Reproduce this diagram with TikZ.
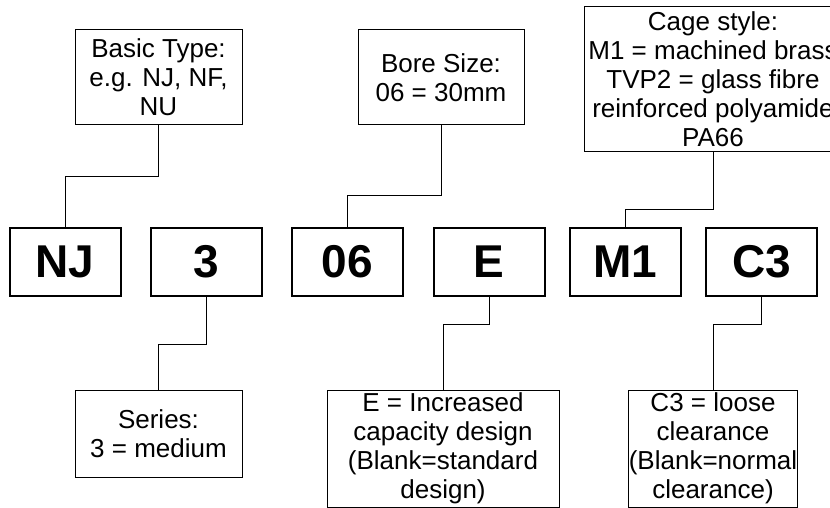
\documentclass[tikz,border=0pt]{standalone}
\usepackage{fontspec}
\setmainfont{Liberation Sans}

\begin{document}
\begin{tikzpicture}[x=1pt,y=-1pt,
  info/.style={draw,line width=1pt,align=center,inner sep=0pt,font=\fontsize{26}{29}\selectfont},
  code/.style={draw,line width=2pt,minimum width=111pt,minimum height=68pt,inner sep=0pt,font=\fontsize{46}{46}\selectfont\bfseries}]
\useasboundingbox (0,0) rectangle (830,508);
%code boxes
\node[code] (nj) at (65,262) {NJ};
\node[code] (series3) at (206.5,262) {3};
\node[code] (bore06) at (347.5,262) {06};
\node[code] (design) at (489,262) {E};
\node[code] (cage) at (625,262) {M1};
\node[code] (clear) at (761.5,262) {C3};
%top boxes
\node[info,minimum width=167pt,minimum height=95pt] (basicinfo) at (158.5,77.5) {Basic Type:\\e.g. NJ, NF,\\NU};
\node[info,minimum width=166pt,minimum height=95pt] (boreinfo) at (441,77.5) {Bore Size:\\06 = 30mm};
\node[info,minimum width=258pt,minimum height=145pt] (cageinfo) at (713,79.5) {Cage style:\\M1 = machined brass\\TVP2 = glass fibre\\reinforced polyamide\\PA66};
%bottom boxes
\node[info,minimum width=167pt,minimum height=87pt] (seriesinfo) at (158.5,433.5) {Series:\\3 = medium};
\node[info,minimum width=232pt,minimum height=117pt] (designinfo) at (443,448.5) {E = Increased\\capacity design\\(Blank=standard\\design)};
\node[info,minimum width=166pt,minimum height=117pt] (clearinfo) at (713,448.5) {C3 = loose\\clearance\\(Blank=normal\\clearance)};
%connectors
\draw[line width=1pt] (basicinfo.south) -- ++(0,51) -| (nj.north);
\draw[line width=1pt] (boreinfo.south) -- ++(0,70) -| (bore06.north);
\draw[line width=1pt] (cageinfo.south) -- ++(0,57) -| (cage.north);
\draw[line width=1pt] (series3.south) -- ++(0,47) -| (seriesinfo.north);
\draw[line width=1pt] (design.south) -- ++(0,27) -| (designinfo.north);
\draw[line width=1pt] (clear.south) -- ++(0,27) -| (clearinfo.north);
\end{tikzpicture}
\end{document}
